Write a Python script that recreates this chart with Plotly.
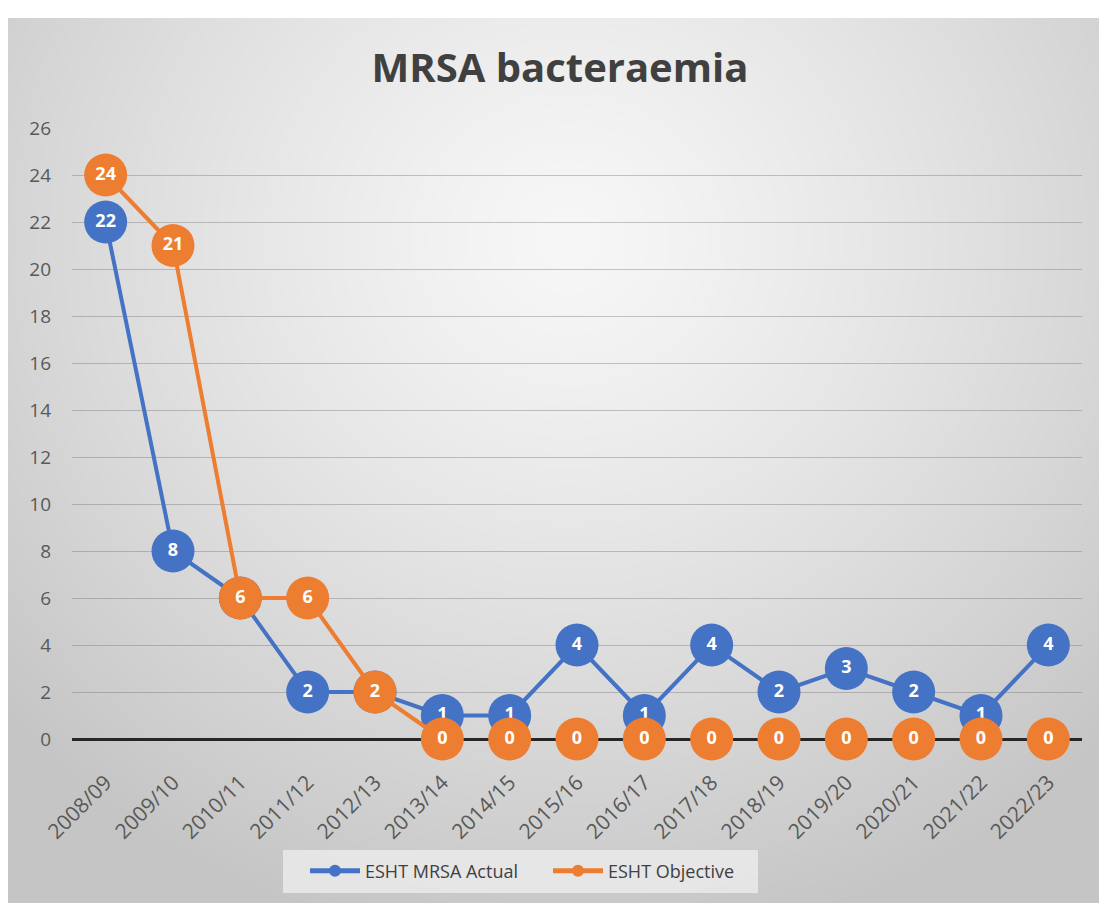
import base64, struct, zlib
import numpy as np
import plotly.graph_objects as go

# ---- data ----
years = ["2008/09", "2009/10", "2010/11", "2011/12", "2012/13", "2013/14", "2014/15",
         "2015/16", "2016/17", "2017/18", "2018/19", "2019/20", "2020/21", "2021/22", "2022/23"]
actual = [22, 8, 6, 2, 2, 1, 1, 4, 1, 4, 2, 3, 2, 1, 4]
objective = [24, 21, 6, 6, 2, 0, 0, 0, 0, 0, 0, 0, 0, 0, 0]
y_ticks = list(range(0, 27, 2))

BLUE = "#4472C4"
ORANGE = "#ED7D31"
FONT = "Open Sans"

# ---- radial gradient background as png ----
W, H = 1091, 885
yy, xx = np.mgrid[0:H, 0:W].astype(float)
cx, cy = 560.0, 220.0
d = np.sqrt(((xx - cx) / 760.0) ** 2 + ((yy - cy) / 720.0) ** 2)
d = np.clip(d, 0, 1)
val = 247 - 50 * d ** 1.25
img = np.repeat(val[:, :, None], 3, axis=2).astype(np.uint8)


def png_uri(arr):
    h, w, _ = arr.shape
    raw = b"".join(b"\x00" + arr[i].tobytes() for i in range(h))

    def chunk(t, data):
        c = struct.pack(">I", len(data)) + t + data
        return c + struct.pack(">I", zlib.crc32(t + data) & 0xFFFFFFFF)

    png = b"\x89PNG\r\n\x1a\n" + chunk(b"IHDR", struct.pack(">IIBBBBB", w, h, 8, 2, 0, 0, 0)) \
        + chunk(b"IDAT", zlib.compress(raw, 9)) + chunk(b"IEND", b"")
    return "data:image/png;base64," + base64.b64encode(png).decode()


L, R, T, B = 72, 1082, 128, 739
pw, ph = R - L, B - T


def px_x(x):
    return (x - L) / pw


def px_y(y):
    return (B - y) / ph


fig = go.Figure()

# blue series: line, markers and labels
fig.add_trace(go.Scatter(
    x=years, y=actual, mode="lines+markers+text",
    line=dict(color=BLUE, width=4),
    marker=dict(color=BLUE, size=43),
    text=[str(v) for v in actual], textposition="middle center",
    textfont=dict(family=FONT, size=18, color="white", weight="bold"),
    cliponaxis=False, showlegend=False, hoverinfo="skip",
))

# orange line: the part lying on the zero axis is hidden behind the axis line
first_zero = objective.index(0)
orange_line = [v if i <= first_zero else None for i, v in enumerate(objective)]
fig.add_trace(go.Scatter(
    x=years, y=orange_line, mode="lines",
    line=dict(color=ORANGE, width=4),
    cliponaxis=False, showlegend=False, hoverinfo="skip",
))
fig.add_trace(go.Scatter(
    x=years, y=objective, mode="markers+text",
    marker=dict(color=ORANGE, size=43),
    text=[str(v) for v in objective], textposition="middle center",
    textfont=dict(family=FONT, size=18, color="white", weight="bold"),
    cliponaxis=False, showlegend=False, hoverinfo="skip",
))

for name, color in [("ESHT MRSA Actual", BLUE), ("ESHT Objective", ORANGE)]:
    fig.add_trace(go.Scatter(
        x=[None], y=[None], mode="lines+markers", name=name,
        line=dict(color=color, width=4), marker=dict(color=color, size=11),
    ))

fig.update_layout(
    width=1099, height=903,
    margin=dict(l=L, r=1099 - R, t=T, b=903 - B, pad=0),
    paper_bgcolor="white", plot_bgcolor="rgba(0,0,0,0)",
    images=[dict(source=png_uri(img), xref="paper", yref="paper",
                 x=px_x(8), y=px_y(18), sizex=W / pw, sizey=H / ph,
                 xanchor="left", yanchor="top", sizing="stretch", layer="below")],
    shapes=[dict(type="rect", xref="paper", yref="paper",
                 x0=px_x(283), x1=px_x(758), y0=px_y(893), y1=px_y(850),
                 fillcolor="rgba(236,236,236,0.8)", line=dict(width=0), layer="below")],
    title=dict(text="<b>MRSA bacteraemia</b>", x=560 / 1099, xanchor="center",
               y=1 - 68 / 903, yanchor="middle",
               font=dict(family=FONT, size=40, color="#404040")),
    font=dict(family=FONT, color="#595959"),
    xaxis=dict(type="category", tickangle=-45, tickfont=dict(size=21, color="#595959"),
               showgrid=False, showline=False, ticks="", zeroline=False,
               range=[-0.5, len(years) - 0.5], ticklabelstandoff=26),
    yaxis=dict(range=[0, 26], tickvals=y_ticks, tickfont=dict(size=19, color="#595959"),
               showgrid=True, gridcolor="rgba(110,110,110,0.38)", gridwidth=1,
               zeroline=True, zerolinecolor="#262626", zerolinewidth=3,
               showline=False, ticks="", ticklabelstandoff=20),
    legend=dict(orientation="h", x=px_x(305), xanchor="left",
                y=px_y(871), yanchor="middle",
                bgcolor="rgba(0,0,0,0)", font=dict(size=18, color="#404040", family=FONT),
                itemsizing="constant", itemwidth=50, entrywidth=178),
)

fig.write_html("out.html", post_script="document.body.style.margin='0px';",
               config={"displayModeBar": False})
